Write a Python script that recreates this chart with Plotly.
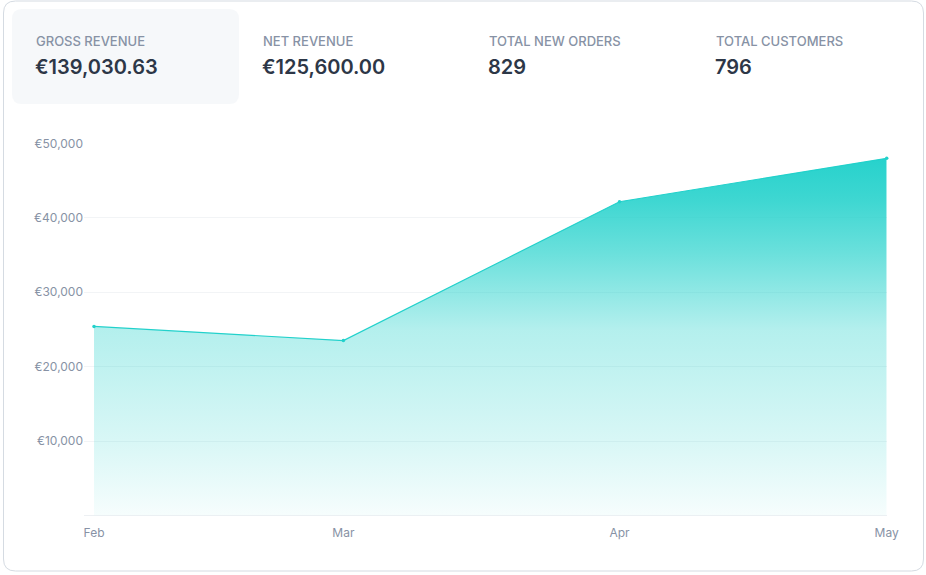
import plotly.graph_objects as go
import pandas as pd

# ---- data ----
months = ["2023-02-01", "2023-03-01", "2023-04-01", "2023-05-01"]
month_labels = ["Feb", "Mar", "Apr", "May"]
revenue = [25400, 23500, 42150, 47980.63]
y_ticks = [10000, 20000, 30000, 40000, 50000]
y_tick_labels = ["€10,000", "€20,000", "€30,000", "€40,000", "€50,000"]

stat_labels = ["GROSS REVENUE", "NET REVENUE", "TOTAL NEW ORDERS", "TOTAL CUSTOMERS"]
stat_values = ["€139,030.63", "€125,600.00", "829", "796"]

W, H = 926, 575
FONT = "Inter, 'Noto Sans', sans-serif"
TEAL = "#22d1cb"


def px(x):
    return x / W


def py(y):
    return 1 - y / H


def rounded_rect(x0, y0, x1, y1, r):
    p = []
    p.append(f"M {px(x0 + r)},{py(y0)}")
    p.append(f"L {px(x1 - r)},{py(y0)}")
    p.append(f"Q {px(x1)},{py(y0)} {px(x1)},{py(y0 + r)}")
    p.append(f"L {px(x1)},{py(y1 - r)}")
    p.append(f"Q {px(x1)},{py(y1)} {px(x1 - r)},{py(y1)}")
    p.append(f"L {px(x0 + r)},{py(y1)}")
    p.append(f"Q {px(x0)},{py(y1)} {px(x0)},{py(y1 - r)}")
    p.append(f"L {px(x0)},{py(y0 + r)}")
    p.append(f"Q {px(x0)},{py(y0)} {px(x0 + r)},{py(y0)}")
    p.append("Z")
    return " ".join(p)


x_dates = pd.to_datetime(months)
x_start = x_dates[0] - pd.Timedelta(hours=27)
x_end = x_dates[-1]

fig = go.Figure()
fig.add_trace(go.Scatter(
    x=x_dates,
    y=revenue,
    mode="lines+markers",
    line=dict(color=TEAL, width=1.2),
    marker=dict(color=TEAL, size=3.5),
    fill="tozeroy",
    fillgradient=dict(
        type="vertical",
        start=0,
        stop=max(revenue),
        colorscale=[
            [0.0, "rgba(34,209,203,0.04)"],
            [0.2, "rgba(34,209,203,0.17)"],
            [0.52, "rgba(34,209,203,0.34)"],
            [0.74, "rgba(34,209,203,0.68)"],
            [0.88, "rgba(34,209,203,0.87)"],
            [1.0, "rgba(34,209,203,0.98)"],
        ],
    ),
    cliponaxis=False,
    hoverinfo="skip",
    showlegend=False,
))

shapes = [
    dict(type="path", xref="paper", yref="paper",
         path=rounded_rect(3.5, 1, 923.5, 571, 12),
         line=dict(color="#d5dbe2", width=1), fillcolor="rgba(0,0,0,0)", layer="below"),
    dict(type="path", xref="paper", yref="paper",
         path=rounded_rect(12, 9, 239, 104, 10),
         line=dict(width=0), fillcolor="#f6f8fa", layer="below"),
]

annotations = []
col_x = [34, 261, 487, 714]
for cx, lab, val in zip(col_x, stat_labels, stat_values):
    annotations.append(dict(
        x=px(cx), y=py(41), xref="paper", yref="paper", xanchor="left", yanchor="middle",
        text=lab, showarrow=False,
        font=dict(family=FONT, size=13, color="#8792a5", weight=500),
    ))
    annotations.append(dict(
        x=px(cx - 1), y=py(67), xref="paper", yref="paper", xanchor="left", yanchor="middle",
        text=val, showarrow=False,
        font=dict(family=FONT, size=20, color="#2d3747", weight=600),
    ))

fig.update_layout(
    width=W, height=H,
    margin=dict(l=0, r=0, t=0, b=0),
    paper_bgcolor="white",
    plot_bgcolor="rgba(0,0,0,0)",
    font=dict(family=FONT, color="#8792a5", size=12),
    shapes=shapes,
    annotations=annotations,
    xaxis=dict(
        domain=[px(84), px(886.7)],
        range=[x_start, x_end],
        type="date",
        tickvals=x_dates,
        ticktext=month_labels,
        showgrid=False,
        zeroline=False,
        showline=False,
        ticks="",
        ticklabelstandoff=8,
        automargin=False,
        tickfont=dict(family=FONT, size=12, color="#8792a5"),
        fixedrange=True,
    ),
    yaxis=dict(
        domain=[py(515.5), py(143.3)],
        range=[0, 50000],
        tickvals=y_ticks,
        ticktext=y_tick_labels,
        showgrid=True,
        gridcolor="#f2f4f6",
        gridwidth=1,
        zeroline=True,
        zerolinecolor="#edf0f3",
        zerolinewidth=1,
        showline=False,
        ticks="",
        automargin=False,
        tickfont=dict(family=FONT, size=12, color="#8792a5"),
        fixedrange=True,
    ),
)

fig.write_html(
    "out.html",
    config={"displayModeBar": False},
    post_script="document.body.style.margin='0';",
)
